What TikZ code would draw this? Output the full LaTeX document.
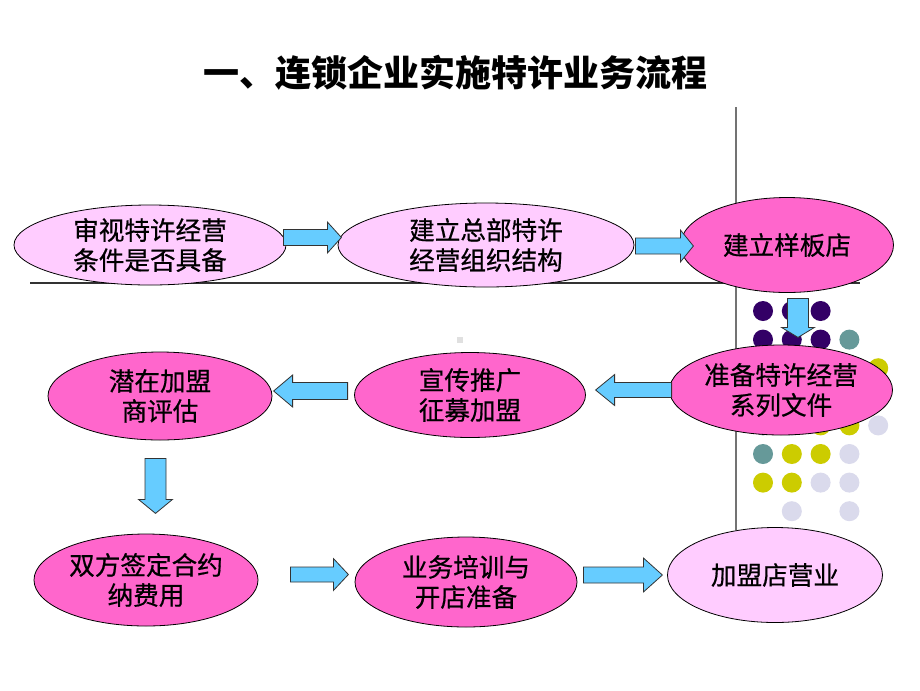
\documentclass[tikz,border=0pt]{standalone}
\usepackage{fontspec}
\setmainfont{Noto Sans CJK SC}
\newfontfamily\stagefont[FakeBold=0.6]{Noto Sans CJK SC}
\usepackage{tikz}
\usetikzlibrary{shapes.geometric,calc}
\definecolor{lightpink}{RGB}{255,204,255}
\definecolor{hotpink}{RGB}{255,102,204}
\definecolor{arrowblue}{RGB}{102,204,255}
\definecolor{dotpurple}{RGB}{51,0,102}
\definecolor{dotteal}{RGB}{102,153,153}
\definecolor{dotyellow}{RGB}{204,204,0}
\definecolor{dotlavender}{RGB}{218,218,236}
\definecolor{rulegray}{RGB}{115,115,115}

\begin{document}
\begin{tikzpicture}[x=0.75pt, y=-0.75pt,
    stage/.style={ellipse, draw=black, line width=0.6pt, inner sep=0pt, align=center, font=\stagefont\fontsize{19.2}{22.5}\selectfont},
    pale/.style={stage, fill=lightpink},
    bright/.style={stage, fill=hotpink},
    dims/.style 2 args={minimum width=#1*0.75pt, minimum height=#2*0.75pt},
    flow/.style={draw=black!80, line width=0.6pt, fill=arrowblue, line join=miter},
    pics/flowarr/.style args={#1/#2/#3/#4}{code={
        \draw[flow] (0,-#2) -- (#1-#4,-#2) -- (#1-#4,-#3) -- (#1,0) -- (#1-#4,#3) -- (#1-#4,#2) -- (0,#2) -- cycle;
    }}
]
\useasboundingbox[fill=white] (0,0) rectangle (920,690);

% Dot pattern
\foreach \r/\clist in {1/{1,2,3}, 2/{1,2,3,4}, 3/{1,2,3,4,5}, 4/{1,2,3,4,5}, 5/{1,2,3,4,5}, 6/{1,2,3,4}, 7/{1,2,3,4}, 8/{2,4}}
  \foreach \c in \clist {
    \pgfmathtruncatemacro\s{\r+\c}
    \ifnum\s<6 \def\dc{dotpurple}\else\ifnum\s<8 \def\dc{dotteal}\else\ifnum\s<10 \def\dc{dotyellow}\else\def\dc{dotlavender}\fi\fi\fi
    \fill[\dc] ({763+28.8*(\c-1)},{311+28.6*(\r-1)}) circle (10);
  }

% Rules
\draw[rulegray, line width=1.2pt] (736,107) -- (736,530);
\draw[black!80, line width=0.8pt] (30,283) -- (860,283);

% Title
\node (title) at (455,73) {\fontsize{27}{32}\selectfont\bfseries 一、连锁企业实施特许业务流程};

% Stages
\node[pale, dims={272}{80}] (e1) at (150,245) {审视特许经营\\条件是否具备};
\node[pale, dims={296}{84}] (e2) at (486,245) {建立总部特许\\经营组织结构};
\node[bright, dims={213}{95}] (e3) at (787,245) {建立样板店};
\node[bright, dims={223}{90}] (e4) at (781,390) {准备特许经营\\系列文件};
\node[bright, dims={231}{85}] (e5) at (470,395) {宣传推广\\征募加盟};
\node[bright, dims={224}{88}] (e6) at (160,396) {潜在加盟\\商评估};
\node[bright, dims={224}{92}] (e7) at (146,580) {双方签定合约\\纳费用};
\node[bright, dims={222}{90}] (e8) at (466,582) {业务培训与\\开店准备};
\node[pale, dims={215}{95}] (e9) at (775,575) {加盟店营业};

% Block arrows
\pic at ($(e1.east)+(-3,-7.5)$) {flowarr=58/8/15.5/14};
\pic at ($(e2.east)+(1,1)$) {flowarr=58/8/16/13};
\pic[rotate=-90] at ($(e3.south)+(11,5.5)$) {flowarr=39/10.5/16.5/10};
\pic[rotate=180] at ($(e4.west)+(2.5,0)$) {flowarr=76/7.5/15.5/19};
\pic[rotate=180] at ($(e5.west)+(-6.5,-4)$) {flowarr=74/8.5/16/19};
\pic[rotate=-90] at ($(e6.south)+(-4.5,18)$) {flowarr=55/10.5/17/14};
\pic at ($(e7.east)+(32,-5.5)$) {flowarr=58/7.5/16/15};
\pic at ($(e8.east)+(6,-7)$) {flowarr=79/8/17/19};

% Speck
\fill[black!12] (457,337) rectangle (463,343);

\end{tikzpicture}
\end{document}
